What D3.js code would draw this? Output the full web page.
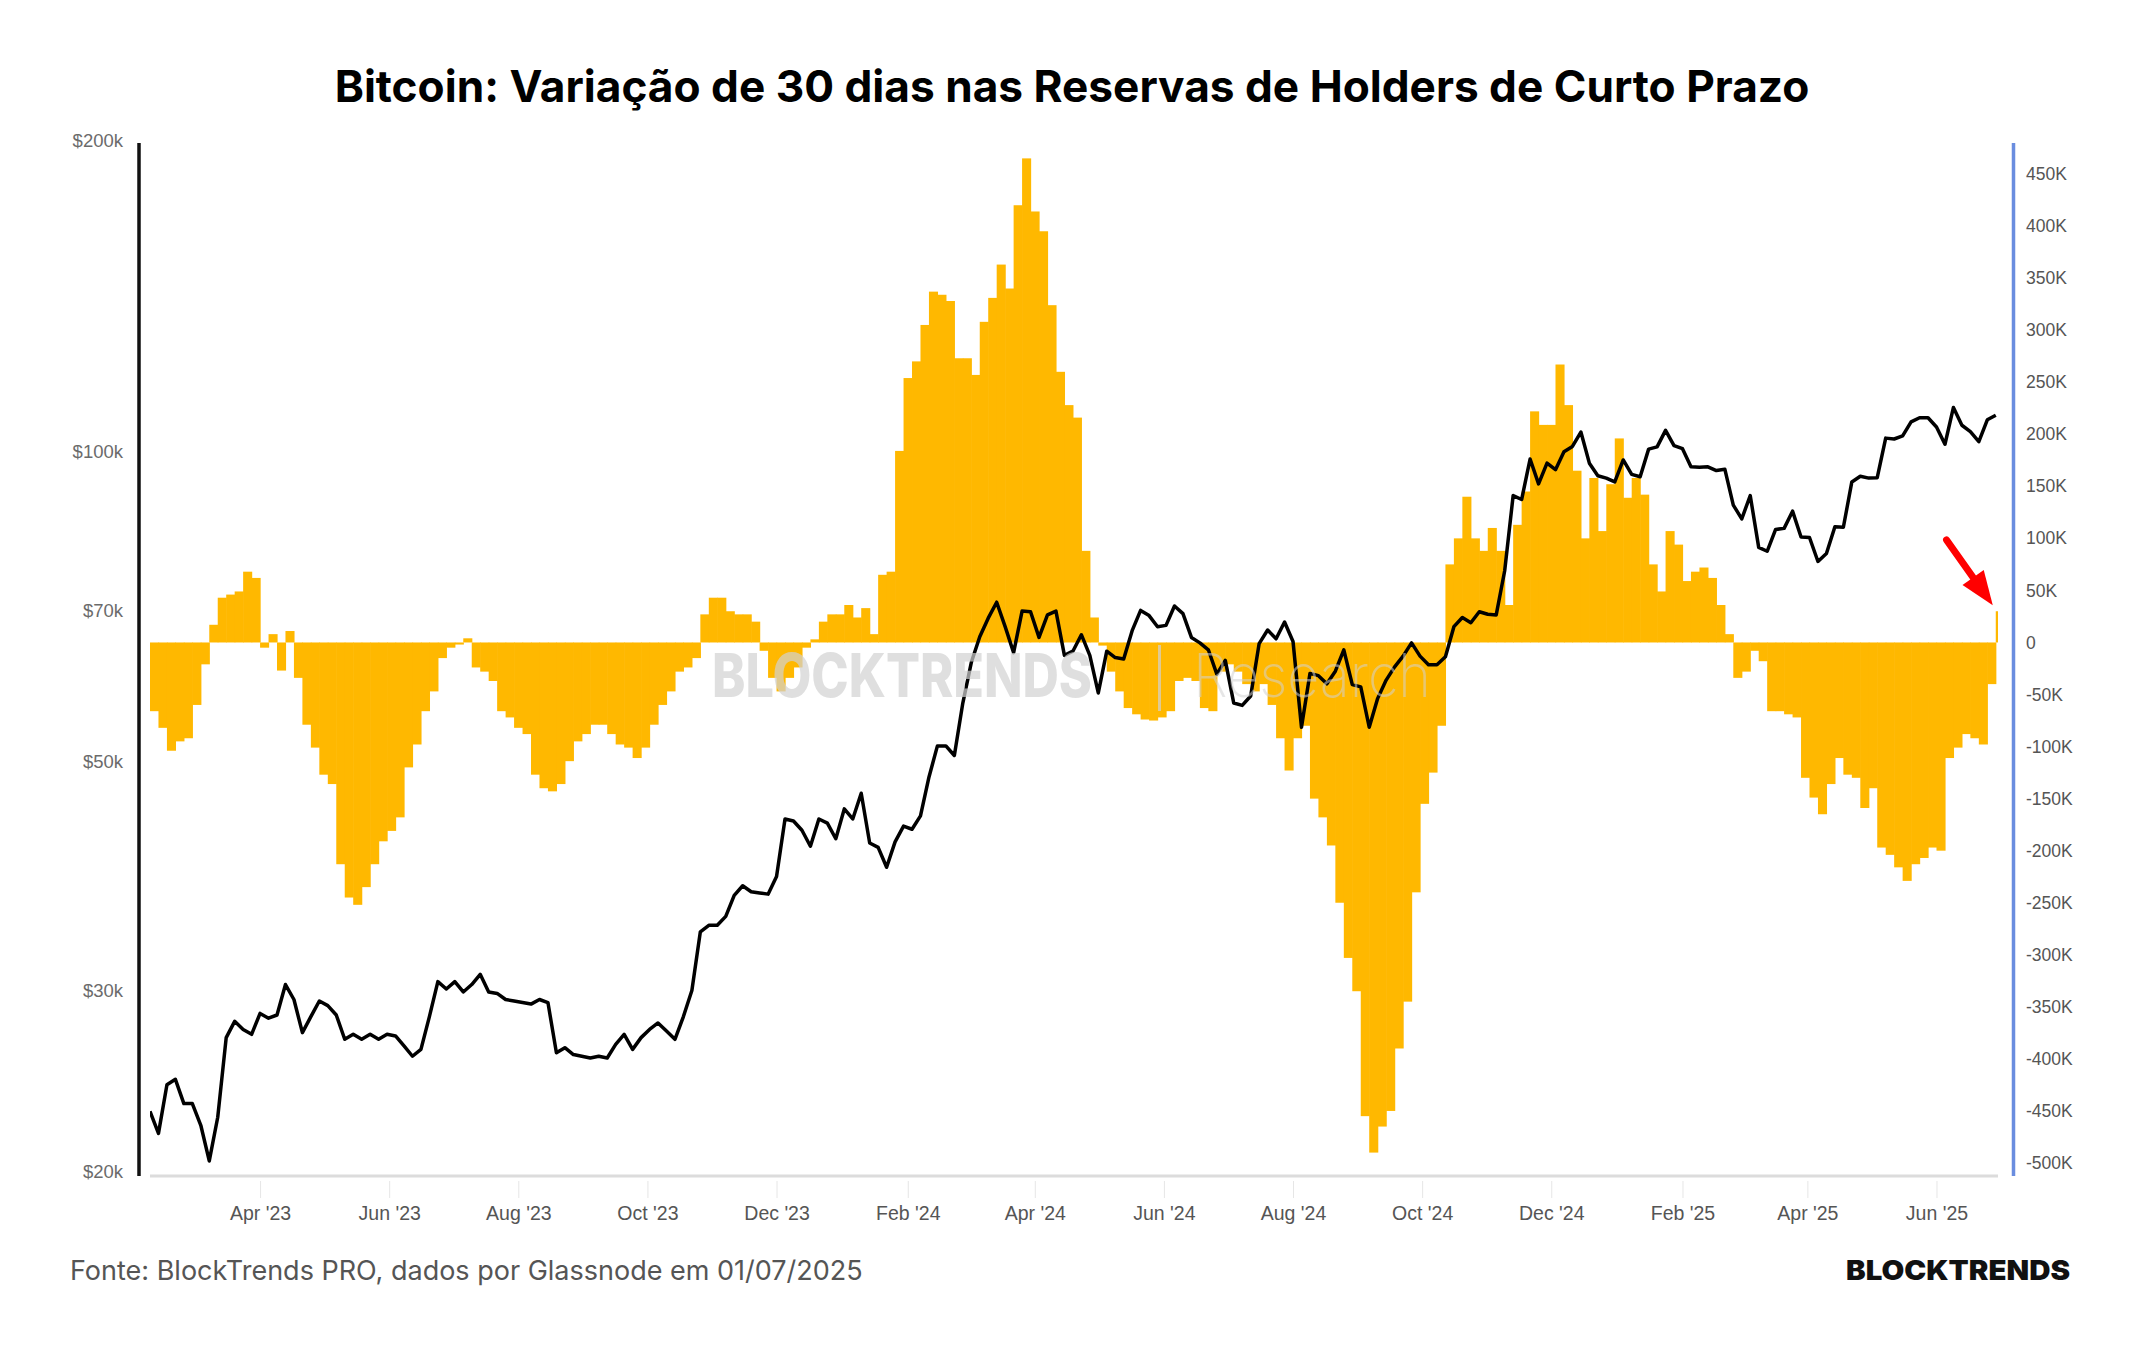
<!DOCTYPE html>
<html>
<head>
<meta charset="UTF-8">
<title>Bitcoin: Variação de 30 dias nas Reservas de Holders de Curto Prazo</title>
<style>
  body { margin: 0; background: #ffffff; }
  svg { display: block; font-family: Inter, 'Noto Sans', sans-serif; }
  .axis text { fill: #555555; }
  .axis .domain { display: none; }
</style>
</head>
<body>
<script src="https://cdn.jsdelivr.net/npm/d3@7"></script>
<script>
// one sample every 4 days, starting 8 Feb 2023
const startDate = '2023-02-08';
const stepDays = 4;

// BTC price, thousands of USD
const btcPrice = [
  22.9, 21.8, 24.3, 24.6, 23.3, 23.3, 22.2, 20.5, 22.6, 27.0,
  28.0, 27.5, 27.2, 28.5, 28.2, 28.4, 30.4, 29.4, 27.3, 28.3,
  29.3, 29.0, 28.4, 26.9, 27.2, 26.9, 27.2, 26.9, 27.2, 27.1,
  26.5, 25.9, 26.3, 28.3, 30.6, 30.1, 30.6, 29.9, 30.4, 31.1,
  29.9, 29.8, 29.4, 29.3, 29.2, 29.1, 29.4, 29.2, 26.1, 26.4,
  26.0, 25.9, 25.8, 25.9, 25.8, 26.6, 27.2, 26.3, 27.0, 27.5,
  27.9, 27.4, 26.9, 28.3, 30.0, 34.2, 34.7, 34.7, 35.4, 37.1,
  37.9, 37.4, 37.3, 37.2, 38.7, 44.0, 43.8, 42.9, 41.4, 44.0,
  43.6, 42.1, 45.0, 44.0, 46.6, 41.7, 41.3, 39.5, 41.8, 43.3,
  43.0, 44.3, 48.3, 51.8, 51.8, 50.7, 57.0, 62.4, 66.1, 68.9,
  71.4, 67.6, 63.8, 70.0, 69.9, 66.0, 69.4, 70.0, 63.4, 64.0,
  66.4, 63.4, 58.3, 64.0, 63.1, 62.9, 67.0, 70.1, 69.3, 67.6,
  67.8, 70.8, 69.6, 66.0, 65.2, 64.2, 60.8, 62.7, 57.0, 56.7,
  57.9, 65.1, 67.1, 65.8, 68.3, 65.4, 54.0, 60.9, 60.6, 59.5,
  61.2, 64.2, 59.4, 59.1, 54.0, 57.6, 60.0, 61.8, 63.3, 65.2,
  63.3, 62.1, 62.1, 63.2, 67.6, 69.0, 68.2, 69.9, 69.5, 69.4,
  76.6, 90.6, 89.8, 98.3, 93.0, 97.4, 96.0, 99.9, 101.1, 104.4,
  97.4, 94.7, 94.2, 93.4, 98.1, 95.0, 94.5, 100.5, 101.0, 104.8,
  101.3, 100.6, 96.6, 96.5, 96.6, 95.8, 96.1, 88.7, 86.0, 90.6,
  80.7, 80.0, 84.0, 84.2, 87.5, 82.6, 82.5, 78.2, 79.6, 84.5,
  84.4, 93.4, 94.6, 94.2, 94.3, 103.0, 102.8, 103.5, 106.8, 107.8,
  107.8, 105.6, 101.6, 110.3, 106.0, 104.5, 102.2, 107.3, 108.4
];

// 30-day change in short-term holder supply, thousands of BTC
const sthChange = [
  -66, -82, -104, -95, -92, -60, -21, 17, 43, 46,
  49, 68, 62, -5, 8, -27, 11, -34, -79, -101,
  -127, -136, -213, -245, -252, -235, -213, -191, -181, -168,
  -120, -98, -66, -47, -15, -5, -2, 4, -24, -28,
  -37, -66, -72, -82, -88, -127, -140, -143, -136, -114,
  -95, -88, -79, -79, -88, -98, -101, -111, -101, -79,
  -60, -47, -28, -24, -15, 27, 43, 43, 30, 27,
  27, 20, -8, -34, -47, -34, -24, -5, 3, 20,
  27, 27, 36, 24, 33, 8, 65, 68, 184, 254,
  270, 305, 337, 334, 328, 273, 273, 257, 308, 331,
  363, 340, 420, 465, 414, 395, 324, 260, 228, 216,
  88, 24, -3, -28, -47, -63, -69, -74, -75, -72,
  -66, -37, -34, -37, -63, -66, -28, -21, -28, -40,
  -47, -40, -60, -92, -123, -92, -80, -150, -168, -195,
  -250, -303, -335, -455, -490, -465, -450, -390, -345, -240,
  -155, -125, -80, 75, 100, 140, 100, 88, 110, 88,
  36, 113, 145, 222, 209, 209, 267, 228, 165, 100,
  158, 107, 152, 196, 139, 158, 142, 75, 49, 107,
  94, 59, 68, 72, 62, 36, 8, -34, -28, -8,
  -18, -66, -66, -69, -72, -130, -149, -165, -136, -111,
  -127, -130, -159, -140, -197, -204, -216, -229, -213, -207,
  -197, -200, -111, -101, -88, -92, -98, -40, 30
];

const priceTicks = [20000, 30000, 50000, 70000, 100000, 200000];
const changeTicks = [-500000, -450000, -400000, -350000, -300000, -250000, -200000,
  -150000, -100000, -50000, 0, 50000, 100000, 150000, 200000, 250000, 300000,
  350000, 400000, 450000];
const monthTicks = ['2023-04-01', '2023-06-01', '2023-08-01', '2023-10-01', '2023-12-01',
  '2024-02-01', '2024-04-01', '2024-06-01', '2024-08-01', '2024-10-01', '2024-12-01',
  '2025-02-01', '2025-04-01', '2025-06-01'];

const titleText = 'Bitcoin: Variação de 30 dias nas Reservas de Holders de Curto Prazo';
const sourceText = 'Fonte: BlockTrends PRO, dados por Glassnode em 01/07/2025';

const parse = d3.utcParse('%Y-%m-%d');
const t0 = parse(startDate);
const data = btcPrice.map(function(p, i) {
  return {
    date: d3.utcDay.offset(t0, i * stepDays),
    price: p * 1000,
    change: sthChange[i] * 1000
  };
});

const width = 2144, height = 1350;
const plotTop = 143, plotBottom = 1176;

const x = d3.scaleUtc()
  .domain([parse('2023-02-08'), parse('2025-07-01')])
  .range([150, 2000]);
const yPrice = d3.scaleLog()
  .domain([20000, 200000])
  .range([1172, 141]);
const yChange = d3.scaleLinear()
  .domain([-500000, 450000])
  .range([1163, 174]);

const svg = d3.select('body').append('svg')
  .attr('width', width)
  .attr('height', height);

svg.append('defs').append('clipPath').attr('id', 'plot')
  .append('rect')
  .attr('x', 150).attr('y', plotTop - 10)
  .attr('width', 1848).attr('height', plotBottom - plotTop + 10);

// title
const title = svg.append('text')
  .attr('x', 1072).attr('y', 102)
  .attr('text-anchor', 'middle')
  .style('font-size', '44px')
  .style('font-weight', 700)
  .style('fill', '#000')
  .text(titleText);
const tw = title.node().getComputedTextLength();
title.style('font-size', (44 * 1476 / tw).toFixed(1) + 'px');

// x axis line + ticks
svg.append('line')
  .attr('x1', 150).attr('x2', 1998)
  .attr('y1', plotBottom).attr('y2', plotBottom)
  .attr('stroke', '#dcdcdc').attr('stroke-width', 3);

svg.append('g')
  .attr('class', 'axis')
  .attr('transform', 'translate(0,' + (plotBottom + 5) + ')')
  .call(d3.axisBottom(x)
    .tickValues(monthTicks.map(parse))
    .tickFormat(d3.utcFormat("%b '%y"))
    .tickSize(17)
    .tickPadding(8))
  .call(function(g) {
    g.selectAll('.tick line').attr('stroke', '#e6e6e6');
    g.selectAll('text').style('font-size', '19.5px');
  });

// bars
const plotArea = svg.append('g').attr('clip-path', 'url(#plot)');
const barW = x(d3.utcDay.offset(t0, stepDays)) - x(t0);

plotArea.selectAll('rect.bar')
  .data(data)
  .enter().append('rect')
  .attr('class', 'bar')
  .attr('x', function(d) { return x(d.date); })
  .attr('width', barW + 0.6)
  .attr('y', function(d) { return Math.min(yChange(d.change), yChange(0)); })
  .attr('height', function(d) { return Math.abs(yChange(d.change) - yChange(0)); })
  .attr('fill', '#ffb800');

// watermark
const wm = svg.append('g').style('fill', 'rgba(210,210,210,0.7)');
wm.append('text')
  .attr('x', 712).attr('y', 697)
  .attr('textLength', 380).attr('lengthAdjust', 'spacingAndGlyphs')
  .style('font-size', '60px').style('font-weight', 800)
  .text('BLOCKTRENDS');
wm.append('rect')
  .attr('x', 1158).attr('y', 645).attr('width', 3).attr('height', 66);
wm.append('text')
  .attr('x', 1193).attr('y', 697)
  .attr('textLength', 238).attr('lengthAdjust', 'spacingAndGlyphs')
  .style('font-size', '60px').style('font-weight', 200)
  .style('fill', 'rgba(210,210,210,0.55)')
  .text('Research');

// price line
plotArea.append('path')
  .datum(data)
  .attr('fill', 'none')
  .attr('stroke', '#000')
  .attr('stroke-width', 3.5)
  .attr('stroke-linejoin', 'round')
  .attr('d', d3.line()
    .x(function(d) { return x(d.date); })
    .y(function(d) { return yPrice(d.price); }));

// left axis
svg.append('line')
  .attr('x1', 139).attr('x2', 139)
  .attr('y1', plotTop).attr('y2', plotBottom)
  .attr('stroke', '#111').attr('stroke-width', 3.5);

svg.append('g')
  .attr('class', 'axis')
  .attr('transform', 'translate(139,0)')
  .call(d3.axisLeft(yPrice)
    .tickValues(priceTicks)
    .tickFormat(function(v) { return '$' + (v / 1000) + 'k'; })
    .tickSize(0)
    .tickPadding(16))
  .call(function(g) {
    g.selectAll('text').style('font-size', '18.5px').style('fill', '#6b6b6b');
  });

// right axis
svg.append('line')
  .attr('x1', 2013.5).attr('x2', 2013.5)
  .attr('y1', plotTop).attr('y2', plotBottom)
  .attr('stroke', '#6a8ddf').attr('stroke-width', 3.5);

svg.append('g')
  .attr('class', 'axis')
  .attr('transform', 'translate(2013,0)')
  .call(d3.axisRight(yChange)
    .tickValues(changeTicks)
    .tickFormat(function(v) { return v === 0 ? '0' : (v / 1000) + 'K'; })
    .tickSize(0)
    .tickPadding(13))
  .call(function(g) {
    g.selectAll('text').style('font-size', '17.5px');
  });

// red arrow pointing to the latest bar
const last = data[data.length - 1];
const tip = [x(last.date) - 3, yChange(last.change) - 6];
const ang = Math.atan2(65, 46);
const ux = Math.cos(ang), uy = Math.sin(ang);
const tail = [tip[0] - 80 * ux, tip[1] - 80 * uy];
const base = [tip[0] - 34 * ux, tip[1] - 34 * uy];
svg.append('line')
  .attr('x1', tail[0]).attr('y1', tail[1])
  .attr('x2', base[0] + 4 * ux).attr('y2', base[1] + 4 * uy)
  .attr('stroke', '#ff0000').attr('stroke-width', 7)
  .attr('stroke-linecap', 'round');
svg.append('path')
  .attr('fill', '#ff0000')
  .attr('d', 'M' + tip[0] + ',' + tip[1] +
    'L' + (base[0] - 13 * uy) + ',' + (base[1] + 13 * ux) +
    'L' + (base[0] + 13 * uy) + ',' + (base[1] - 13 * ux) + 'Z');

// footer
svg.append('text')
  .attr('x', 70).attr('y', 1280)
  .style('font-size', '27px')
  .style('fill', '#555')
  .text(sourceText);

svg.append('text')
  .attr('x', 2070).attr('y', 1280)
  .attr('text-anchor', 'end')
  .attr('textLength', 224).attr('lengthAdjust', 'spacingAndGlyphs')
  .style('font-size', '27px')
  .style('font-weight', 900)
  .style('fill', '#111')
  .text('BLOCKTRENDS');
</script>
</body>
</html>
